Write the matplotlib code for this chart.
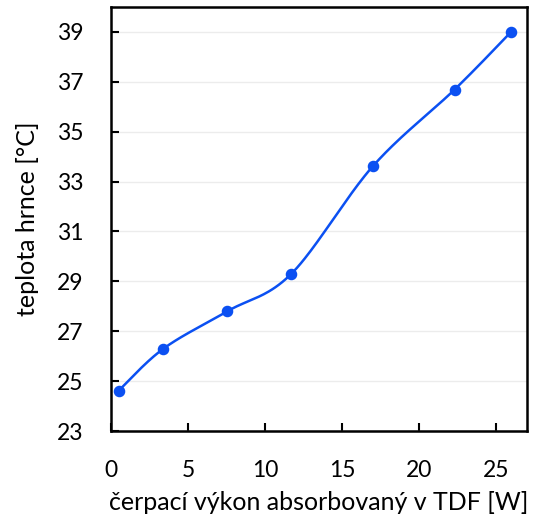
import numpy as np
import matplotlib
matplotlib.use("Agg")
import matplotlib.pyplot as plt

power_w = [0.5, 3.4, 7.55, 11.7, 17.0, 22.3, 25.95]
temp_c = [24.62, 26.30, 27.80, 29.30, 33.62, 36.69, 38.99]
x_ticks = [0, 5, 10, 15, 20, 25]
y_ticks = [23, 25, 27, 29, 31, 33, 35, 37, 39]
x_label = "čerpací výkon absorbovaný v TDF [W]"
y_label = "teplota hrnce [°C]"

plt.rcParams['font.family'] = ['Lato', 'DejaVu Sans']

def smooth(xs, ys, n=40):
    P = np.column_stack([xs, ys]).astype(float)
    m = len(P)
    out = []
    for i in range(m - 1):
        p0 = P[i - 1] if i > 0 else P[i]
        p1 = P[i]
        p2 = P[i + 1]
        p3 = P[i + 2] if i + 2 < m else P[i + 1]
        c1 = p1 + (p2 - p0) / 6.0
        c2 = p2 - (p3 - p1) / 6.0
        t = np.linspace(0, 1, n)[:, None]
        seg = ((1 - t) ** 3) * p1 + 3 * ((1 - t) ** 2) * t * c1 + 3 * (1 - t) * t ** 2 * c2 + t ** 3 * p2
        out.append(seg if i == 0 else seg[1:])
    s = np.vstack(out)
    return s[:, 0], s[:, 1]

fig = plt.figure(figsize=(5.41, 5.19), dpi=100)
ax = fig.add_axes([111/541, 1 - 431/519, (527-111)/541, (431-7)/519])
color = '#0B50F2'
sx, sy = smooth(power_w, temp_c)
ax.plot(sx, sy, color=color, lw=1.8, zorder=3)
ax.plot(power_w, temp_c, 'o', color=color, ms=7.3, zorder=4)

ax.set_xlim(0, 27)
ax.set_ylim(23, 40)
ax.set_xticks(x_ticks)
ax.set_yticks(y_ticks)
ax.grid(axis='y', color='#ececec', lw=1)
ax.set_axisbelow(True)
for s in ax.spines.values():
    s.set_linewidth(1.8)
    s.set_color('black')
ax.tick_params(direction='in', length=6, width=1.5, labelsize=16.5)
ax.tick_params(axis='y', pad=20)
ax.tick_params(axis='x', pad=21)
ax.set_xlabel(x_label, fontsize=18)
ax.set_ylabel(y_label, fontsize=18)
ax.xaxis.set_label_coords(0.5, (431 - 503) / 424)
ax.xaxis.label.set_verticalalignment('center')
ax.yaxis.set_label_coords((27 - 111) / 416, 0.5)
ax.yaxis.label.set_verticalalignment('center')
fig.savefig("out.png", dpi=100)
